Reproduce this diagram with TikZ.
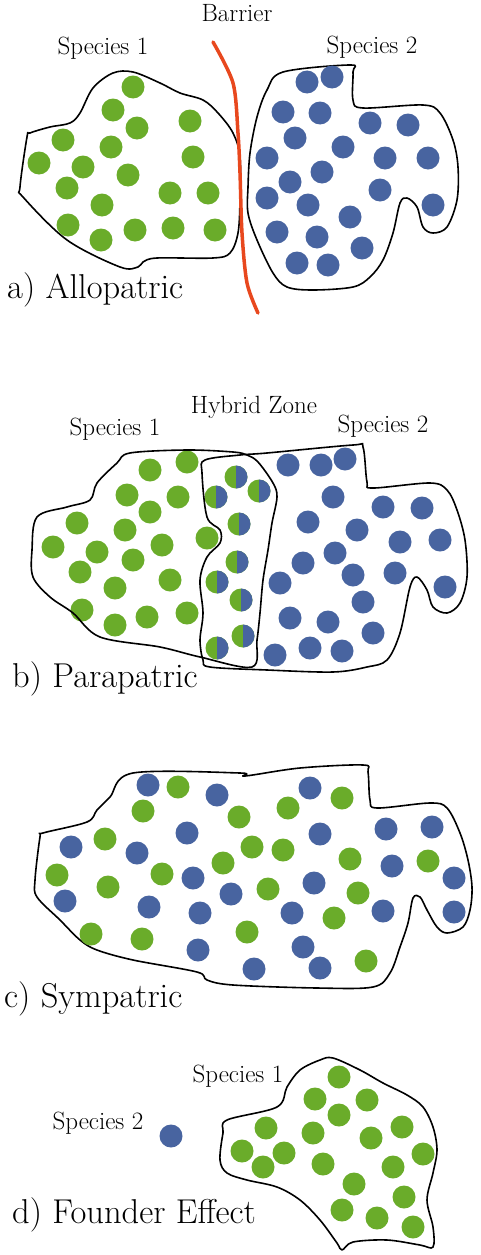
\documentclass[tikz,border=0pt]{standalone}
\definecolor{sgreen}{RGB}{106,172,42}
\definecolor{sblue}{RGB}{72,100,160}
\definecolor{barred}{RGB}{232,72,30}
\tikzset{
  rangeline/.style={line width=1.6pt,line join=round},
  greendot/.style={fill=sgreen},
  bluedot/.style={fill=sblue},
  smalllabel/.style={anchor=base,inner sep=0pt,font=\fontsize{25}{28}\selectfont},
  biglabel/.style={anchor=base west,inner sep=0pt,font=\fontsize{34.5}{38}\selectfont}
}
\newcommand{\dotr}{11.5}
\begin{document}
\begin{tikzpicture}[x=1pt,y=-1pt]
  \useasboundingbox (0,0) rectangle (481,1255);
  % a) allopatric
  \draw[rangeline] plot[smooth cycle,tension=.55] coordinates {(27,137) (20,187) (23,197) (67,240) (120,267) (138,267) (143,262) (157,258) (213,258) (230,253) (238,233) (240,200) (240,157) (233,133) (218,113) (203,100) (180,93) (160,83) (133,72) (113,73) (93,88) (80,113) (70,123) (50,127) (30,133)};
  \draw[rangeline] plot[smooth cycle,tension=.55] coordinates {(283,72) (350,65) (353,72) (353,100) (363,108) (423,105) (440,113) (453,140) (458,167) (457,200) (447,227) (433,233) (423,227) (417,207) (407,198) (400,203) (393,233) (383,260) (370,277) (353,287) (313,290) (287,287) (273,273) (257,240) (248,213) (248,187) (250,153) (257,117) (267,90)};
  \foreach \x/\y in {133/87,113/110,137/128,190/121,63/140,111/147,39/163,83/167,128/175,193/157,67/188,102/205,170/193,208/193,68/225,101/240,135/230,173/228,215/230}
    \fill[greendot] (\x,\y) circle[radius=\dotr];
  \foreach \x/\y in {307/82,332/77,283/112,320/113,370/123,408/125,295/138,343/147,267/158,385/158,428/158,322/172,290/182,380/190,267/198,308/205,433/205,350/217,277/232,317/237,362/248,297/263,328/265}
    \fill[bluedot] (\x,\y) circle[radius=\dotr];
  \draw[barred,line width=3.5pt,line cap=round] plot[smooth] coordinates {(213,42) (233,83) (238,133) (240,173) (242,233) (247,283) (258,313)};
  \node[smalllabel] (barrier) at (237,22) {Barrier};
  \node[smalllabel] (aspone) at (103,55) {Species 1};
  \node[smalllabel] (asptwo) at (372,53) {Species 2};
  \node[biglabel] (allo) at (7,298) {a) Allopatric};
  % b) parapatric
  \foreach \x/\y in {187/462,150/470,127/495,178/497,150/512,77/523,125/530,53/547,97/552,162/545,207/538,133/560,80/572,170/580,115/588,82/610,115/625,147/617,187/613}
    \fill[greendot] (\x,\y) circle[radius=\dotr];
  \foreach \x/\y in {236/477,259/491,216/497,239/524,237/562,217/582,241/600,243/636,217/648} {
    \fill[greendot] (\x,\y) circle[radius=\dotr];
    \fill[bluedot] (\x,\y-\dotr) arc[start angle=-90,end angle=90,radius=\dotr] -- cycle;
  }
  \foreach \x/\y in {288/465,321/465,345/459,333/497,383/507,422/508,308/522,357/530,400/542,440/540,335/553,303/563,353/575,395/573,280/583,363/602,445/587,290/618,328/622,373/633,275/655,310/648,342/651}
    \fill[bluedot] (\x,\y) circle[radius=\dotr];
  \draw[rangeline] plot[smooth cycle,tension=.55] coordinates {(130,453) (187,450) (233,452) (247,455) (258,462) (273,483) (277,497) (272,523) (268,550) (263,580) (260,613) (257,640) (252,667) (200,657) (160,647) (100,637) (73,613) (50,597) (33,577) (32,550) (37,517) (67,507) (90,500) (97,483) (117,463)};
  \draw[rangeline] plot[smooth cycle,tension=.55] coordinates {(205,460) (202,473) (207,517) (220,530) (220,543) (207,557) (200,580) (203,613) (200,640) (203,660) (210,667) (267,670) (333,672) (367,667) (387,660) (400,633) (410,587) (417,577) (427,590) (433,607) (447,613) (460,603) (467,577) (465,540) (457,510) (447,490) (430,483) (373,488) (367,482) (363,447) (353,445) (267,453) (240,455)};
  \node[smalllabel] (hybrid) at (254,413) {Hybrid Zone};
  \node[smalllabel] (bspone) at (115,435) {Species 1};
  \node[smalllabel] (bsptwo) at (383,432) {Species 2};
  \node[biglabel] (para) at (12,687) {b) Parapatric};
  % c) sympatric
  \draw[rangeline] plot[smooth cycle,tension=.55] coordinates {(133,773) (240,773) (245,776) (300,768) (363,765) (368,772) (370,800) (377,808) (430,803) (447,808) (460,833) (468,860) (472,887) (470,910) (463,927) (447,933) (437,927) (427,910) (420,897) (413,898) (408,923) (400,947) (390,973) (373,987) (317,988) (233,985) (207,980) (197,972) (133,960) (97,950) (80,940) (60,920) (37,897) (35,880) (40,837) (43,833) (87,822) (97,810) (110,797)};
  \foreach \x/\y in {178/787,143/811,239/817,288/808,342/798,105/839,252/847,283/850,223/863,350/859,428/861,57/875,162/874,108/887,268/889,358/893,334/918,247/932,91/934,142/939,366/961}
    \fill[greendot] (\x,\y) circle[radius=\dotr];
  \foreach \x/\y in {148/785,217/795,310/788,187/833,320/834,386/829,432/827,71/847,137/853,392/866,454/878,193/878,231/894,314/883,65/901,149/907,200/913,292/913,383/911,454/912,198/950,303/947,254/969,320/968}
    \fill[bluedot] (\x,\y) circle[radius=\dotr];
  \node[biglabel] (sym) at (4,1007) {c) Sympatric};
  % d) founder effect
  \draw[rangeline] plot[smooth cycle,tension=.55] coordinates {(227,1120) (277,1107) (287,1087) (300,1070) (320,1060) (333,1058) (360,1070) (383,1083) (407,1095) (423,1107) (433,1127) (437,1150) (433,1173) (427,1200) (433,1227) (433,1247) (420,1245) (387,1240) (353,1242) (342,1250) (337,1243) (320,1220) (300,1200) (277,1187) (247,1180) (227,1173) (220,1160) (223,1133)};
  \foreach \x/\y in {339/1077,315/1099,367/1100,339/1115,266/1128,313/1133,402/1127,371/1138,242/1151,284/1153,423/1154,263/1167,323/1164,393/1167,354/1184,404/1197,342/1210,377/1218,413/1227}
    \fill[greendot] (\x,\y) circle[radius=\dotr];
  \fill[bluedot] (171,1136) circle[radius=\dotr];
  \node[smalllabel] (dspone) at (238,1082) {Species 1};
  \node[smalllabel] (dsptwo) at (98,1129) {Species 2};
  \node[biglabel] (founder) at (12,1223) {d) Founder Effect};
\end{tikzpicture}
\end{document}
